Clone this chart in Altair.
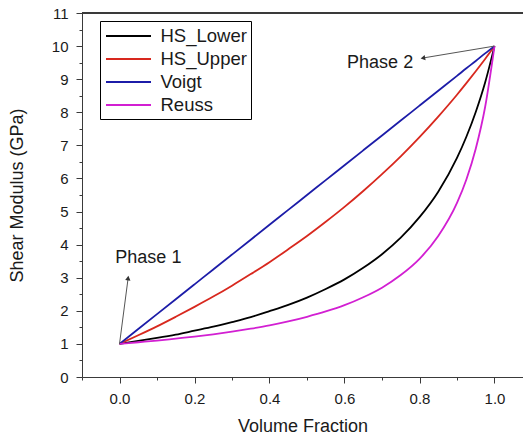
import altair as alt
import pandas as pd

# Volume fraction of phase 2 and the four shear-modulus bounds (GPa)
fraction = [0.0, 0.05, 0.1, 0.15, 0.2, 0.25, 0.3, 0.35, 0.4, 0.45, 0.5,
            0.55, 0.6, 0.65, 0.7, 0.75, 0.8, 0.85, 0.9, 0.925, 0.95, 0.975, 1.0]
hs_lower = [1.00, 1.09, 1.18, 1.28, 1.40, 1.52, 1.66, 1.81, 1.99, 2.18, 2.40,
            2.66, 2.95, 3.30, 3.71, 4.21, 4.83, 5.60, 6.62, 7.26, 8.01, 8.90, 10.00]
hs_upper = [1.00, 1.26, 1.53, 1.82, 2.12, 2.43, 2.76, 3.11, 3.47, 3.86, 4.26,
            4.69, 5.14, 5.62, 6.13, 6.67, 7.25, 7.87, 8.53, 8.88, 9.24, 9.61, 10.00]
voigt = [1.00, 1.45, 1.90, 2.35, 2.80, 3.25, 3.70, 4.15, 4.60, 5.05, 5.50,
         5.95, 6.40, 6.85, 7.30, 7.75, 8.20, 8.65, 9.10, 9.33, 9.55, 9.78, 10.00]
reuss = [1.00, 1.05, 1.10, 1.16, 1.22, 1.29, 1.37, 1.46, 1.56, 1.68, 1.82,
         1.98, 2.17, 2.41, 2.70, 3.08, 3.57, 4.26, 5.26, 5.97, 6.90, 8.16, 10.00]

series_names = ["HS_Lower", "HS_Upper", "Voigt", "Reuss"]
series_colors = ["#000000", "#d8281e", "#1c1ca8", "#d21fd2"]

# Annotation arrows: from the pure-phase point to the arrow tip, with labels
phase_labels = ["Phase 1", "Phase 2"]
phase_label_x = [0.077, 0.695]
phase_label_y = [3.60, 9.49]
arrow_start_x = [0.0, 1.0]
arrow_start_y = [1.0, 10.0]
arrow_tip_x = [0.023, 0.809]
arrow_tip_y = [2.99, 9.64]
arrow_angle = [7, 260]

FONT = "Liberation Sans"
AXIS_COLOR = "#3a3a3a"
TEXT_COLOR = "#1a1a1a"

rows = []
for name, values in zip(series_names, [hs_lower, hs_upper, voigt, reuss]):
    for f, g in zip(fraction, values):
        rows.append({"fraction": f, "modulus": g, "series": name})
curves = pd.DataFrame(rows)

notes = pd.DataFrame({
    "label": phase_labels,
    "lx": phase_label_x,
    "ly": phase_label_y,
    "x0": arrow_start_x,
    "y0": arrow_start_y,
    "x1": arrow_tip_x,
    "y1": arrow_tip_y,
    "angle": arrow_angle,
})

x_ticks = [round(-0.1 + 0.1 * i, 1) for i in range(12)]
y_ticks = [0.5 * i for i in range(23)]
x_major = "abs(datum.value * 5 - round(datum.value * 5)) < 0.01"
y_major = "abs(datum.value - round(datum.value)) < 0.01"

x_scale = alt.Scale(domain=[-0.1, 1.076], nice=False, zero=False)
y_scale = alt.Scale(domain=[0, 11], nice=False, zero=False)

x_axis = alt.Axis(
    title="Volume Fraction",
    values=x_ticks,
    labelExpr=f"{x_major} ? format(datum.value, '.1f') : ''",
    tickSize={"condition": {"test": x_major, "value": 6}, "value": 3},
    grid=False,
    labelOverlap=False,
    labelFlush=False,
    labelPadding=8,
    titlePadding=11,
)
y_axis = alt.Axis(
    title="Shear Modulus (GPa)",
    values=y_ticks,
    labelExpr=f"{y_major} ? format(datum.value, 'd') : ''",
    tickSize={"condition": {"test": y_major, "value": 6}, "value": 3},
    grid=False,
    labelOverlap=False,
    labelFlush=False,
    labelPadding=8,
    titlePadding=25,
)

lines = alt.Chart(curves).mark_line(strokeWidth=1.8, interpolate="monotone").encode(
    x=alt.X("fraction:Q", scale=x_scale, axis=x_axis),
    y=alt.Y("modulus:Q", scale=y_scale, axis=y_axis),
    color=alt.Color(
        "series:N",
        scale=alt.Scale(domain=series_names, range=series_colors),
        sort=series_names,
        legend=alt.Legend(
            title=None,
            orient="none",
            legendX=18,
            legendY=8,
            direction="vertical",
            strokeColor="#000000",
            fillColor="#ffffff",
            padding=4,
            labelFont=FONT,
            labelFontSize=18.5,
            labelColor=TEXT_COLOR,
            labelOffset=21,
            symbolType="M-2.25,0H2.25",
            symbolSize=400,
            symbolStrokeWidth=2,
            symbolOffset=13.5,
            rowPadding=2,
        ),
    ),
    order=alt.Order("fraction:Q"),
)

top_frame = alt.Chart(curves).mark_rule(color=AXIS_COLOR, strokeWidth=1).encode(
    y=alt.YDatum(11, scale=y_scale, axis=y_axis)
)

arrows = alt.Chart(notes).mark_rule(color="#555555", strokeWidth=1).encode(
    x=alt.X("x0:Q", scale=x_scale, axis=x_axis),
    y=alt.Y("y0:Q", scale=y_scale, axis=y_axis),
    x2="x1:Q",
    y2="y1:Q",
)

heads = alt.Chart(notes).mark_point(
    shape="triangle-up", filled=True, size=28, color="#333333", opacity=1
).encode(
    x=alt.X("x1:Q", scale=x_scale, axis=x_axis),
    y=alt.Y("y1:Q", scale=y_scale, axis=y_axis),
    angle=alt.Angle("angle:Q", scale=None),
)

labels = alt.Chart(notes).mark_text(
    font=FONT, fontSize=18, color=TEXT_COLOR, align="center", baseline="middle"
).encode(
    x=alt.X("lx:Q", scale=x_scale, axis=x_axis),
    y=alt.Y("ly:Q", scale=y_scale, axis=y_axis),
    text="label:N",
)

chart = alt.layer(lines, top_frame, arrows, heads, labels).properties(
    width=441,
    height=364,
    autosize=alt.AutoSizeParams(type="none"),
    padding={"left": 82, "top": 13, "right": 0, "bottom": 58},
    background="white",
).configure_view(
    stroke=None
).configure_axis(
    domainColor=AXIS_COLOR,
    tickColor=AXIS_COLOR,
    domainWidth=1,
    tickWidth=1,
    labelFont=FONT,
    labelFontSize=15,
    labelColor=TEXT_COLOR,
    titleFont=FONT,
    titleFontSize=18,
    titleFontWeight="normal",
    titleColor=TEXT_COLOR,
)

chart.save("out.html", embed_options={"renderer": "svg", "actions": False})
